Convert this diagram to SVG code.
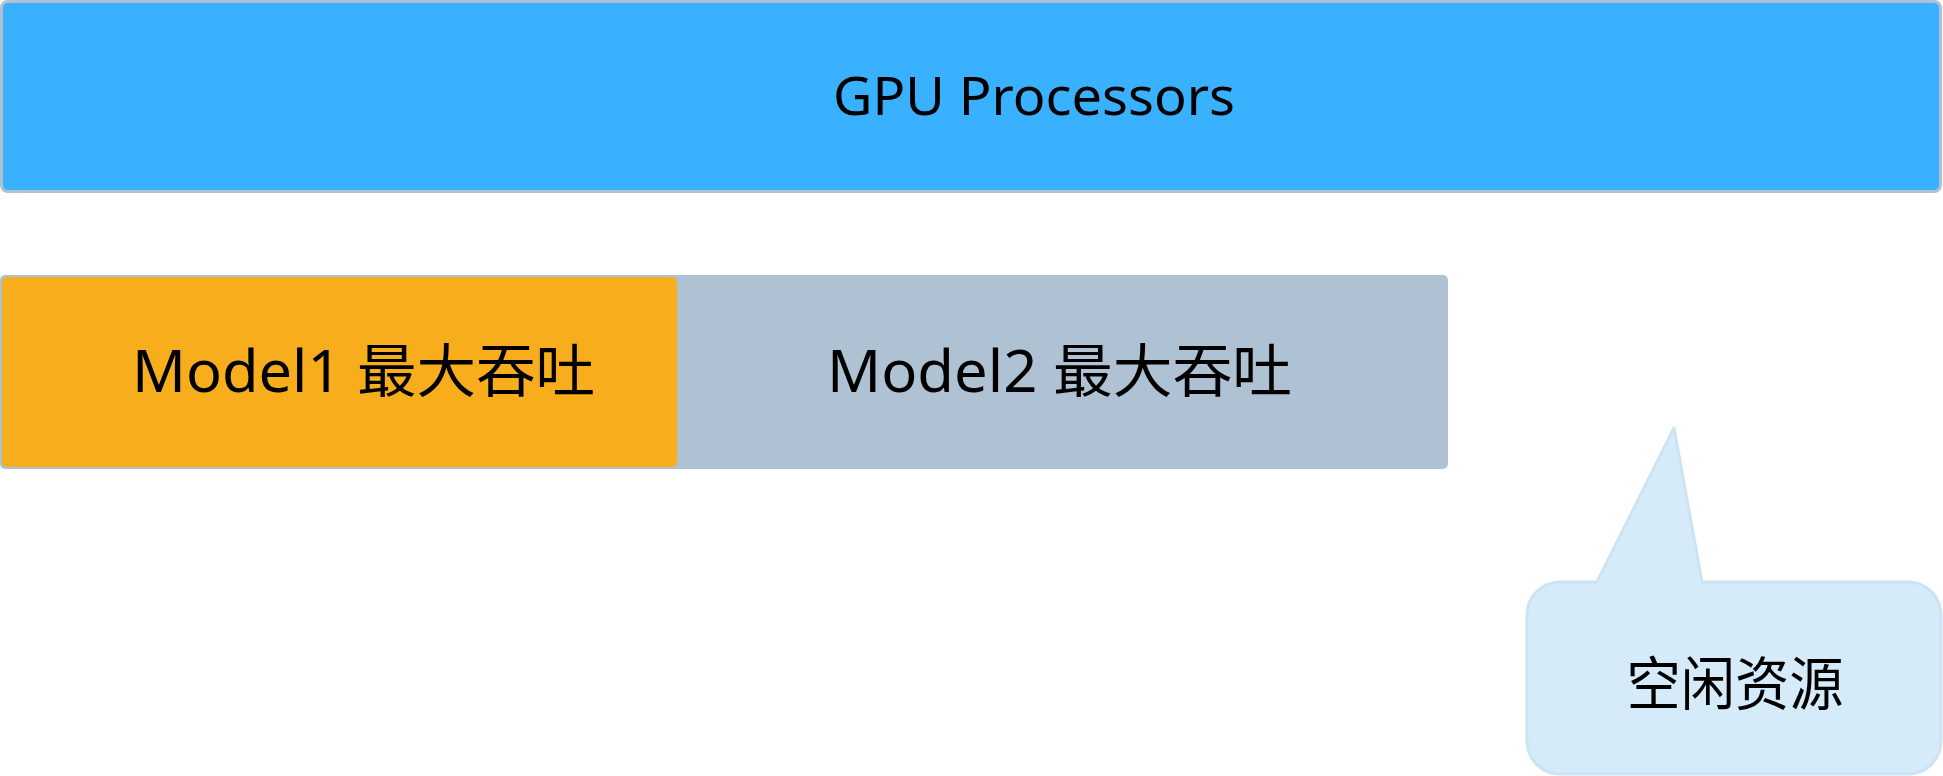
<svg xmlns="http://www.w3.org/2000/svg" width="1943" height="776" viewBox="0 0 1943 776">
<style>
.lbl{font-family:"Noto Sans","Noto Sans CJK SC",sans-serif;fill:#000;text-anchor:middle}
</style>
<rect width="1943" height="776" fill="#fff"/>
<g id="gpu">
<rect x="1.5" y="1.5" width="1939" height="190" rx="6" fill="#39B1FF" stroke="#B0C1D2" stroke-width="3"/>
<text class="lbl" x="1034" y="115" font-size="53" textLength="402" lengthAdjust="spacingAndGlyphs">GPU Processors</text>
</g>
<g id="model2">
<rect x="0" y="275" width="1448" height="194" rx="5" fill="#AFC2D4"/>
<text class="lbl" x="1059.5" y="392" font-size="58" textLength="465" lengthAdjust="spacingAndGlyphs">Model2 最大吞吐</text>
</g>
<g id="model1">
<rect x="2" y="277" width="675" height="190" rx="5" fill="#F8AD1D"/>
<text class="lbl" x="363.5" y="392" font-size="58" textLength="463" lengthAdjust="spacingAndGlyphs">Model1 最大吞吐</text>
</g>
<g id="callout">
<path d="M1560,582 L1597,582 L1674,428 L1702,582 L1908,582 A33,33 0 0 1 1941,615 L1941,741 A33,33 0 0 1 1908,774 L1560,774 A33,33 0 0 1 1527,741 L1527,615 A33,33 0 0 1 1560,582 Z" fill="#D6EBF9" stroke="#CCE3F3" stroke-width="3" stroke-linejoin="round"/>
<text class="lbl" x="1735" y="705" font-size="58" textLength="217" lengthAdjust="spacingAndGlyphs">空闲资源</text>
</g>
<g id="connectors"></g>
</svg>
